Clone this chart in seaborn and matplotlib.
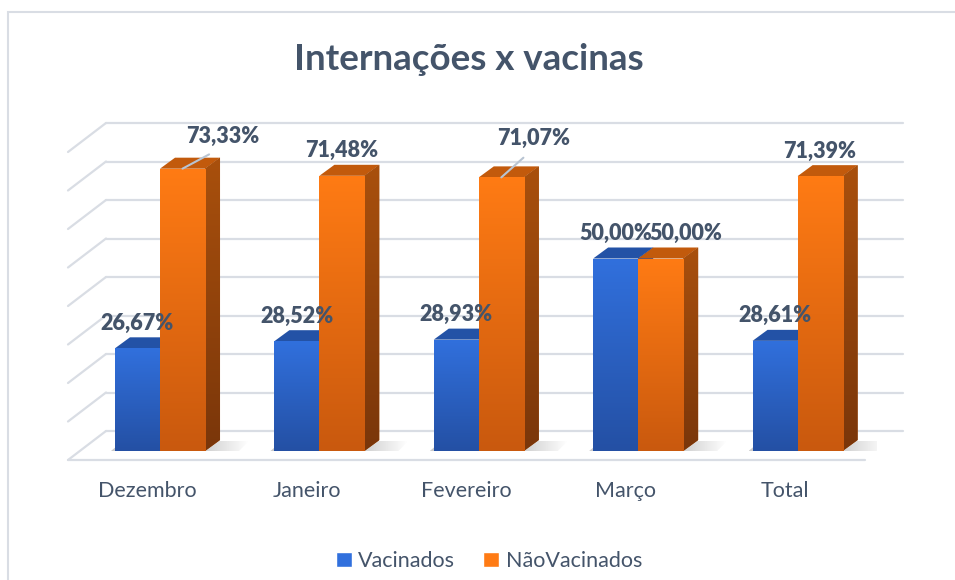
import numpy as np
import pandas as pd
import matplotlib
matplotlib.use("Agg")
import matplotlib.pyplot as plt
import seaborn as sns
from matplotlib.patches import Polygon, Patch, Rectangle
from matplotlib.transforms import Affine2D, IdentityTransform
from matplotlib.colors import LinearSegmentedColormap

# dados
meses = ["Dezembro", "Janeiro", "Fevereiro", "Março", "Total"]
vacinados = [26.67, 28.52, 28.93, 50.00, 28.61]
nao_vacinados = [73.33, 71.48, 71.07, 50.00, 71.39]
grupos = ["Vacinados", "NãoVacinados"]

df = pd.DataFrame({
    "Mes": meses * 2,
    "Percentual": vacinados + nao_vacinados,
    "Grupo": [grupos[0]] * len(meses) + [grupos[1]] * len(meses),
})

sns.set_theme(style="white")
plt.rcParams["font.family"] = ["Lato", "DejaVu Sans"]

TXT = "#44546a"
GRID = "#d9dde4"
cores = {"Vacinados": "#2a62c4", "NãoVacinados": "#f06e10"}
grad_frente = {"Vacinados": ("#2450a4", "#3170dd"), "NãoVacinados": ("#c9590e", "#ff7b14")}
grad_lado = {"Vacinados": ("#1b3d82", "#2552a8"), "NãoVacinados": ("#7a360a", "#a9500d")}
cor_topo = {"Vacinados": "#2352a6", "NãoVacinados": "#c25a0c"}

# efeito 3D (pixels)
PROF = (15, 11)
FUNDO = (25.7, 20)
FRENTE = (-12.3, -9)

fig = plt.figure(figsize=(9.55, 5.8), dpi=100)
ax = fig.add_axes([80.3 / 955, 129 / 580, 797 / 955, 308 / 580])
sns.barplot(data=df, x="Mes", y="Percentual", hue="Grupo", palette=cores,
            width=0.565, saturation=1, legend=False, ax=ax)
ax.set_xlim(-0.5, 4.5)
ax.set_ylim(0, 80)
ax.set_autoscale_on(False)
ax.axis("off")

px = ax.transData.transform
inv = ax.transData.inverted().transform
t_fundo = ax.transData + Affine2D().translate(*FUNDO)
t_frente = ax.transData + Affine2D().translate(*FRENTE)

# parede de fundo + chão
for v in range(0, 81, 10):
    ax.plot([-0.5, 4.5], [v, v], transform=t_fundo, color=GRID, lw=1.6,
            zorder=1, clip_on=False)
    pb = t_fundo.transform((-0.5, v))
    pf = t_frente.transform((-0.5, v))
    ax.plot([pb[0], pf[0]], [pb[1], pf[1]], transform=IdentityTransform(),
            color=GRID, lw=1.6, zorder=1, clip_on=False)
ax.plot([-0.5, 4.5], [0, 0], transform=t_frente, color=GRID, lw=1.6,
        zorder=1, clip_on=False)

def gradiente(cores_ab, extent, clip, z):
    cmap = LinearSegmentedColormap.from_list("g", cores_ab)
    im = ax.imshow(np.linspace(0, 1, 200).reshape(-1, 1), extent=extent,
                   origin="lower", aspect="auto", cmap=cmap, zorder=z)
    im.set_clip_path(clip)

dx, dy = PROF

# sombras no chão (suaves, à direita de cada par)
fade = np.zeros((1, 60, 4))
fade[..., :3] = 0.35
fade[0, :, 3] = np.concatenate([np.full(38, 0.32), np.linspace(0.32, 0, 22)])
for i in range(len(meses)):
    b0 = ax.containers[0][i]
    b1 = ax.containers[1][i]
    (xl, y0) = px((b0.get_x(), 0))
    (xr, _) = px((b1.get_x() + b1.get_width(), 0))
    sombra = Polygon([(xl - 4, y0), (xr + 34, y0), (xr + 44, y0 + 10), (xl + 8, y0 + 10)],
                     closed=True, transform=IdentityTransform(), facecolor="none",
                     edgecolor="none", zorder=1.5)
    ax.add_patch(sombra)
    (ex0, ey0), (ex1, ey1) = inv([(xl - 4, y0), (xr + 44, y0 + 10)])
    im = ax.imshow(fade, extent=(ex0, ex1, ey0, ey1), aspect="auto",
                   interpolation="bilinear", zorder=1.5)
    im.set_clip_path(sombra)

for k, (grupo, cont) in enumerate(zip(grupos, ax.containers)):
    for bar in cont:
        z = 3 + 2 * k
        x0, w, h = bar.get_x(), bar.get_width(), bar.get_height()
        bar.set_zorder(z)
        bar.set_edgecolor("none")
        bar.set_linewidth(0)
        gradiente(grad_frente[grupo], (x0, x0 + w, 0, h), bar, z + 0.1)
        (ax0, ay0), (ax1, ay1) = px([(x0, 0), (x0 + w, h)])
        topo = Polygon([(ax0, ay1), (ax1, ay1), (ax1 + dx, ay1 + dy), (ax0 + dx, ay1 + dy)],
                       closed=True, transform=IdentityTransform(),
                       facecolor=cor_topo[grupo], edgecolor="none", zorder=z - 0.5)
        ax.add_patch(topo)
        lado = Polygon([(ax1, ay0), (ax1, ay1), (ax1 + dx, ay1 + dy), (ax1 + dx, ay0 + dy)],
                       closed=True, transform=IdentityTransform(),
                       facecolor=grad_lado[grupo][1], edgecolor="none", zorder=z - 0.5)
        ax.add_patch(lado)
        (ex0, ey0), (ex1, ey1) = inv([(ax1, ay0), (ax1 + dx, ay1 + dy)])
        gradiente(grad_lado[grupo], (ex0, ex1, ey0, ey1), lado, z - 0.4)

# rótulos de dados
desloc = {(1, 0): (40, 32), (1, 2): (32, 39), (1, 3): (25, 25)}
linha = {(1, 0), (1, 2)}
for k, cont in enumerate(ax.containers):
    for i, bar in enumerate(cont):
        h = bar.get_height()
        xc = bar.get_x() + bar.get_width() / 2
        off = desloc.get((k, i), (0, 25))
        txt = f"{h:.2f}%".replace(".", ",")
        seta = None
        if (k, i) in linha:
            seta = dict(arrowstyle="-", color="#b8c4d2", lw=1.5, shrinkA=6,
                        shrinkB=0, relpos=(0.5, 0))
        ax.annotate(txt, xy=(xc, h), xytext=off, textcoords="offset pixels",
                    ha="center", va="center", fontsize=15.5, fontweight="heavy",
                    color=TXT, arrowprops=seta, zorder=10)

# rótulos das categorias (no plano da frente)
t_rot = t_frente + Affine2D().translate(0, -31)
for i, mes in enumerate(meses):
    ax.text(i, 0, mes, transform=t_rot, ha="center", va="center",
            fontsize=15.5, color=TXT, clip_on=False)

fig.text(469 / 955, 1 - 59 / 580, "Internações x vacinas", ha="center",
         va="center", fontsize=26.5, fontweight="bold", color=TXT)

handles = [Patch(facecolor=grad_frente[g][1], label=g) for g in grupos]
fig.legend(handles=handles, loc="center", bbox_to_anchor=(489 / 955, 1 - 561 / 580),
           ncol=2, frameon=False, handlelength=0.75, handleheight=0.75,
           handletextpad=0.3, columnspacing=1.3, fontsize=15.5, labelcolor=TXT)

fig.patches.append(Rectangle((7.5 / 955, -0.1), 2, 1.1 - 11.5 / 580,
                             transform=fig.transFigure, fill=False,
                             edgecolor=GRID, lw=1.5))

fig.savefig("out.png", dpi=100)
